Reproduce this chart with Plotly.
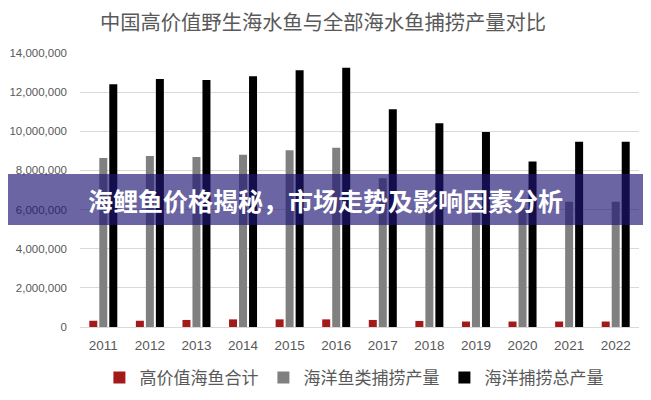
import plotly.graph_objects as go

# data
years = ['2011', '2012', '2013', '2014', '2015', '2016',
         '2017', '2018', '2019', '2020', '2021', '2022']
high_value = [320000, 320000, 360000, 390000, 390000, 390000,
              360000, 310000, 280000, 280000, 280000, 280000]
marine_fish = [8640000, 8740000, 8690000, 8800000, 9030000, 9160000,
               7600000, 5980000, 5900000, 6060000, 6400000, 6400000]
marine_total = [12400000, 12670000, 12620000, 12810000, 13120000, 13250000,
                11120000, 10410000, 9960000, 8450000, 9470000, 9470000]

series_names = ['高价值海鱼合计', '海洋鱼类捕捞产量', '海洋捕捞总产量']
series_colors = ['#a31a1a', '#808080', '#000000']

chart_title = '中国高价值野生海水鱼与全部海水鱼捕捞产量对比'
banner_text = '海鲤鱼价格揭秘，市场走势及影响因素分析'

font_cjk = 'Noto Sans CJK SC, Liberation Sans, sans-serif'

fig = go.Figure()
for name, vals, col in zip(series_names, [high_value, marine_fish, marine_total], series_colors):
    fig.add_trace(go.Bar(x=years, y=vals, name=name, marker_color=col,
                         marker_line_width=0))

# page body adds an 8px offset, so the figure is a bit smaller and shifted
fig.update_layout(
    width=643, height=392,
    margin=dict(l=72, r=12, t=45, b=73, autoexpand=False),
    paper_bgcolor='white', plot_bgcolor='white',
    barmode='group', bargap=0.356, bargroupgap=0.2,
    font=dict(family=font_cjk, color='#595959'),
    title=dict(text=chart_title, x=0.49, xanchor='center', y=0.962, yanchor='middle',
               font=dict(size=20.3, color='#595959', family=font_cjk)),
    legend=dict(orientation='h', x=0.49, xanchor='center', y=-0.186, yanchor='middle',
                font=dict(size=17, color='#595959', family=font_cjk),
                itemwidth=30, traceorder='normal'),
)

fig.update_xaxes(type='category', showgrid=False, showline=False, ticks='',
                 automargin=False, ticklabelstandoff=8,
                 tickfont=dict(size=13.5, color='#595959', family='Liberation Sans, sans-serif'))
fig.update_yaxes(range=[0, 14000000], dtick=2000000, tickformat=',',
                 showgrid=True, gridcolor='#d9d9d9', gridwidth=1,
                 zeroline=True, zerolinecolor='#d9d9d9', zerolinewidth=1,
                 showline=False, ticks='', automargin=False, ticklabelstandoff=12,
                 tickfont=dict(size=11.5, color='#595959', family='Liberation Sans, sans-serif'))

# purple banner laid over the chart
fig.add_shape(type='rect', xref='paper', yref='paper',
              x0=-0.2, x1=1.1, y0=0.372, y1=0.558,
              fillcolor='rgba(30, 22, 115, 0.66)', line_width=0, layer='above')
fig.add_annotation(text='<b>' + banner_text + '</b>', xref='paper', yref='paper',
                   x=0.44, y=0.4635, xanchor='center', yanchor='middle', showarrow=False,
                   font=dict(size=25, color='white', family=font_cjk))

fig.write_html('out.html')
